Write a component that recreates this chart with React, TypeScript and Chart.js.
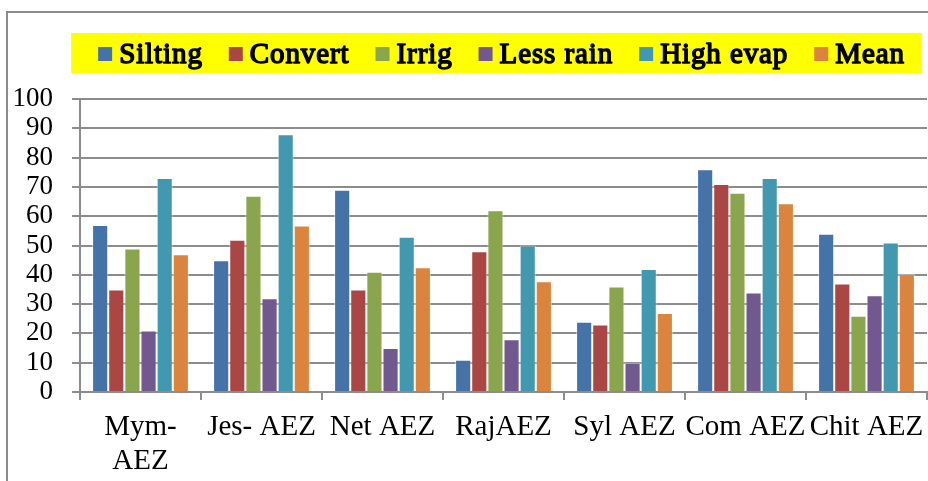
import { useEffect, useRef } from "react";
import { Chart, registerables } from "chart.js";

Chart.register(...registerables);

const FONT = "'Liberation Serif'";

// Agro-ecological zones
const categories: (string | string[])[] = [
  ["Mym-", "AEZ"],
  "Jes- AEZ",
  "Net AEZ",
  "RajAEZ",
  "Syl AEZ",
  "Com AEZ",
  "Chit AEZ",
];

// Percentage of responses per cause
const silting = [57, 45, 69, 11, 24, 76, 54];
const convert = [35, 52, 35, 48, 23, 71, 37];
const irrig = [49, 67, 41, 62, 36, 68, 26];
const lessRain = [21, 32, 15, 18, 10, 34, 33];
const highEvap = [73, 88, 53, 50, 42, 73, 51];
const mean = [47, 56.8, 42.6, 37.8, 27, 64.4, 40.2];

const seriesNames = ["Silting", "Convert", "Irrig", "Less rain", "High evap", "Mean"];
const seriesColors = ["#4572A7", "#AA4643", "#89A54E", "#71588F", "#4198AF", "#DB843D"];
const yTicks = [0, 10, 20, 30, 40, 50, 60, 70, 80, 90, 100];

const GRID = "#8c8c8c";

// Yellow-backed legend row drawn above the plot.
// Heavy serif text: regular face filled and stroked for weight.
const bannerLegend = {
  id: "bannerLegend",
  afterDraw(chart: any) {
    const ctx = chart.ctx as CanvasRenderingContext2D;
    ctx.save();
    ctx.font = `29px ${FONT}`;
    const box = 14;
    const gap = 7;
    const spacing = 26;
    const track = 0.9;
    const items = chart.data.datasets.map((d: any) => ({
      label: d.label as string,
      color: d.backgroundColor as string,
      w: ctx.measureText(d.label).width + d.label.length * track,
    }));
    const total =
      items.reduce((a: number, it: any) => a + box + gap + it.w, 0) +
      spacing * (items.length - 1);
    const cx = (chart.chartArea.left + chart.chartArea.right) / 2 - 2;
    let x = cx - total / 2;
    ctx.fillStyle = "#ffff00";
    ctx.fillRect(x - 27, 33, total + 27 + 17, 40);
    ctx.textBaseline = "alphabetic";
    ctx.textAlign = "left";
    ctx.lineJoin = "round";
    items.forEach((it: any) => {
      ctx.fillStyle = it.color;
      ctx.fillRect(x, 47, box, box);
      ctx.fillStyle = "#000";
      ctx.strokeStyle = "#000";
      ctx.lineWidth = 1.5;
      // spread glyphs slightly so the heavier strokes keep their spacing
      let tx = x + box + gap;
      for (const ch of it.label) {
        ctx.fillText(ch, tx, 63);
        ctx.strokeText(ch, tx, 63);
        tx += ctx.measureText(ch).width + track;
      }
      x += box + gap + it.w + spacing;
    });
    ctx.restore();
  },
};

export default function App() {
  const ref = useRef<HTMLCanvasElement>(null);

  useEffect(() => {
    const values = [silting, convert, irrig, lessRain, highEvap, mean];
    const chart = new Chart(ref.current!, {
      type: "bar",
      data: {
        labels: categories,
        datasets: values.map((data, i) => ({
          label: seriesNames[i],
          data,
          backgroundColor: seriesColors[i],
          borderColor: "rgba(255,255,255,0.55)",
          borderWidth: 1,
          barPercentage: 1,
          categoryPercentage: 0.8,
        })),
      },
      options: {
        responsive: false,
        animation: false,
        devicePixelRatio: 1,
        layout: { padding: { top: 99, left: 8, right: 1, bottom: 0 } },
        plugins: {
          legend: { display: false },
          tooltip: { enabled: false },
        },
        scales: {
          x: {
            grid: {
              offset: true,
              drawOnChartArea: false,
              drawTicks: true,
              tickLength: 8,
              color: GRID,
              lineWidth: 2,
            },
            border: { color: GRID, width: 2 },
            ticks: {
              font: { family: FONT, size: 29, lineHeight: 1.15 },
              color: "#000",
              padding: 11,
              maxRotation: 0,
              autoSkip: false,
            },
            afterFit: (s: any) => {
              s.height = 89;
              s.paddingLeft = 0;
              s.paddingRight = 0;
            },
          },
          y: {
            min: 0,
            max: 100,
            afterBuildTicks: (s: any) => {
              s.ticks = yTicks.map((v) => ({ value: v }));
            },
            ticks: {
              font: { family: FONT, size: 27 },
              color: "#000",
              padding: 19,
              autoSkip: false,
            },
            grid: { color: GRID, lineWidth: 2, tickLength: 8 },
            border: { display: true, color: GRID, width: 2 },
            afterFit: (s: any) => {
              s.width = 72;
            },
          },
        },
      },
      plugins: [bannerLegend],
    });
    return () => chart.destroy();
  }, []);

  return (
    <div
      style={{
        position: "fixed",
        left: 0,
        top: 0,
        width: 928,
        height: 481,
        background: "#fff",
        overflow: "hidden",
      }}
    >
      <div
        style={{
          position: "absolute",
          left: 6,
          top: 11,
          right: -10,
          bottom: -10,
          borderLeft: `2px solid ${GRID}`,
          borderTop: `2px solid ${GRID}`,
        }}
      />
      <canvas
        ref={ref}
        width={928}
        height={481}
        style={{ position: "absolute", left: 0, top: 0, width: 928, height: 481 }}
      />
    </div>
  );
}
